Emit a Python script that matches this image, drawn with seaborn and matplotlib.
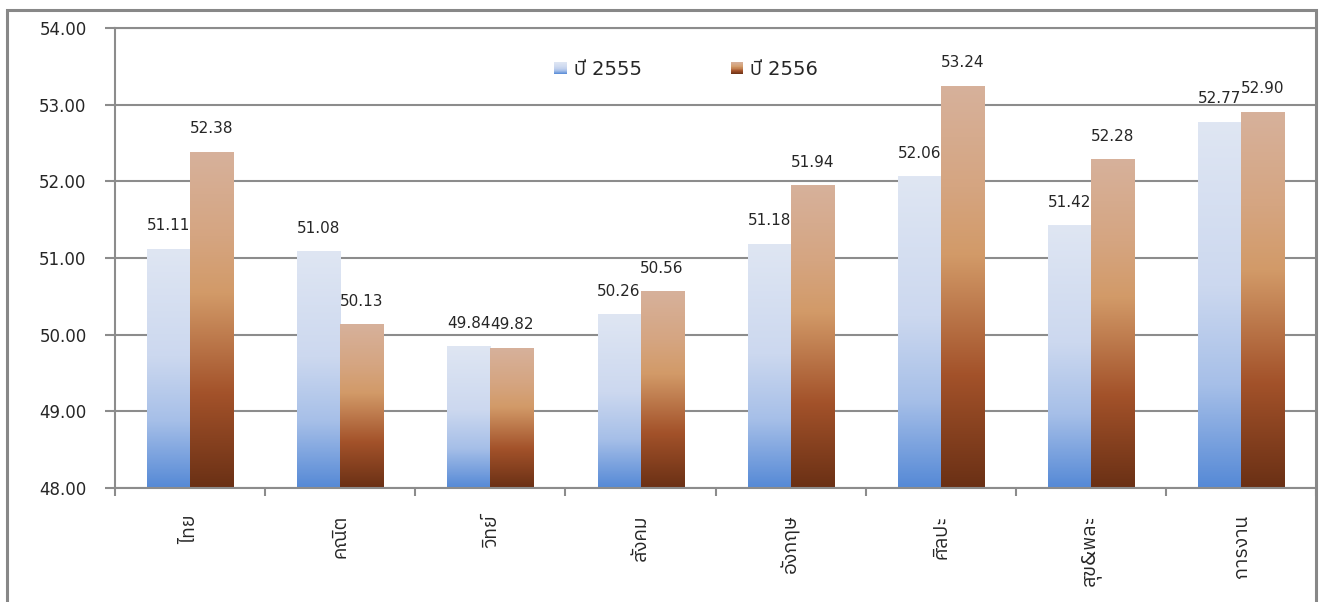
import numpy as np
import pandas as pd
import matplotlib
matplotlib.use("Agg")
import matplotlib.pyplot as plt
import seaborn as sns
from matplotlib import font_manager
from matplotlib.ft2font import FT2Font
from matplotlib.colors import LinearSegmentedColormap
from matplotlib.legend_handler import HandlerBase
from matplotlib.patches import Rectangle

# ---- data -------------------------------------------------------------
subjects = ["ไทย", "คณิต", "วิทย์", "สังคม", "อังกฤษ", "ศิลปะ", "สุข&พละ", "การงาน"]
years = ["ปี 2555", "ปี 2556"]
scores_2555 = [51.11, 51.08, 49.84, 50.26, 51.18, 52.06, 51.42, 52.77]
scores_2556 = [52.38, 50.13, 49.82, 50.56, 51.94, 53.24, 52.28, 52.90]
y_ticks = [48, 49, 50, 51, 52, 53, 54]

df = pd.DataFrame({
    "subject": subjects * 2,
    "year": [years[0]] * len(subjects) + [years[1]] * len(subjects),
    "score": scores_2555 + scores_2556,
})


def find_thai_family():
    """Return the name of an installed font that covers Thai script."""
    sample = "ไทยคณิตปี"
    found = []
    for entry in font_manager.fontManager.ttflist:
        try:
            cmap = FT2Font(entry.fname).get_charmap()
        except Exception:
            continue
        if all(ord(c) in cmap for c in sample):
            found.append(entry.name)
    if not found:
        return None
    sans = [n for n in found if "Sans" in n]
    return (sans or found)[0]


sns.set_style("white")
thai = find_thai_family()
families = ["DejaVu Sans"] + ([thai] if thai else [])
plt.rcParams["font.family"] = families

TEXT = "#262626"
GRID = "#8c8c8c"
FRAME = "#888888"

blue_cmap = LinearSegmentedColormap.from_list(
    "blue_grad",
    [(0.0, "#dfe6f3"), (0.45, "#ccd8ef"), (0.72, "#a6bfe8"), (1.0, "#5589d6")])
brown_cmap = LinearSegmentedColormap.from_list(
    "brown_grad",
    [(0.0, "#d7b19b"), (0.25, "#d5a581"), (0.42, "#d29a68"),
     (0.72, "#a3522a"), (1.0, "#6a3015")])
cmaps = [blue_cmap, brown_cmap]

# ---- figure -----------------------------------------------------------
fig = plt.figure(figsize=(13.21, 6.02), dpi=100)
ax = fig.add_axes([0.0871, 0.1894, 0.9092, 0.7641])

sns.barplot(data=df, x="subject", y="score", hue="year",
            palette=["#a6bfe8", "#b8703f"], width=0.573, gap=0,
            saturation=1, legend=False, ax=ax)

base = y_ticks[0]
gradient = np.linspace(0, 1, 256).reshape(-1, 1)
n = len(subjects)
for i, patch in enumerate(list(ax.patches)):
    x0 = patch.get_x()
    w = patch.get_width()
    top = patch.get_height()
    patch.set_visible(False)
    ax.imshow(gradient, cmap=cmaps[i // n], aspect="auto", origin="upper",
              extent=(x0, x0 + w, base, top), interpolation="bilinear",
              zorder=2)
    ax.annotate(f"{top:.2f}", (x0 + w / 2, top), xytext=(0, 17),
                textcoords="offset points", ha="center", va="center",
                fontsize=11, color=TEXT, zorder=4)

ax.set_xlim(-0.5, n - 0.5)
ax.set_ylim(y_ticks[0], y_ticks[-1])
ax.set_yticks(y_ticks)
ax.set_yticklabels([f"{t:.2f}" for t in y_ticks])
ax.set_xlabel("")
ax.set_ylabel("")

ax.yaxis.grid(True, color=GRID, linewidth=1.5)
ax.xaxis.grid(False)
ax.set_axisbelow(True)

ax.spines["right"].set_visible(False)
for side in ("left", "bottom", "top"):
    ax.spines[side].set_color(GRID)
    ax.spines[side].set_linewidth(1.5)

ax.tick_params(axis="y", direction="out", length=7.5, width=1.5, color=GRID,
               labelsize=12, labelcolor=TEXT, pad=13, left=True)
ax.set_xticks(np.arange(-0.5, n, 1), minor=True)
ax.tick_params(axis="x", which="major", length=0, pad=19, labelsize=14,
               labelcolor=TEXT, labelrotation=90)
ax.tick_params(axis="x", which="minor", direction="out", length=6,
               width=1.5, color=GRID, bottom=True)


class GradientHandler(HandlerBase):
    """Legend key drawn as a vertical colour gradient square."""

    def __init__(self, cmap, steps=24):
        super().__init__()
        self.cmap = cmap
        self.steps = steps

    def create_artists(self, legend, orig_handle, xdescent, ydescent,
                       width, height, fontsize, trans):
        artists = []
        step_h = height / self.steps
        for k in range(self.steps):
            y = -ydescent + height - (k + 1) * step_h
            artists.append(Rectangle((-xdescent, y), width, step_h * 1.05,
                                     facecolor=self.cmap(k / (self.steps - 1)),
                                     edgecolor="none", transform=trans))
        return artists


h1 = Rectangle((0, 0), 1, 1)
h2 = Rectangle((0, 0), 1, 1)
ax.legend([h1, h2], years, loc="center", bbox_to_anchor=(0.4755, 0.91),
          ncol=2, frameon=False, fontsize=14, handlelength=0.64,
          handleheight=0.64, handletextpad=0.35, columnspacing=4.6,
          labelcolor=TEXT,
          handler_map={h1: GradientHandler(blue_cmap),
                       h2: GradientHandler(brown_cmap)})

# outer chart frame
fig.add_artist(Rectangle((7 / 1321, -0.1), (1316 - 7) / 1321, 1.1 - 10 / 602,
                         transform=fig.transFigure, facecolor="none",
                         edgecolor=FRAME, linewidth=2.2, clip_on=False))

fig.savefig("out.png", dpi=100)
